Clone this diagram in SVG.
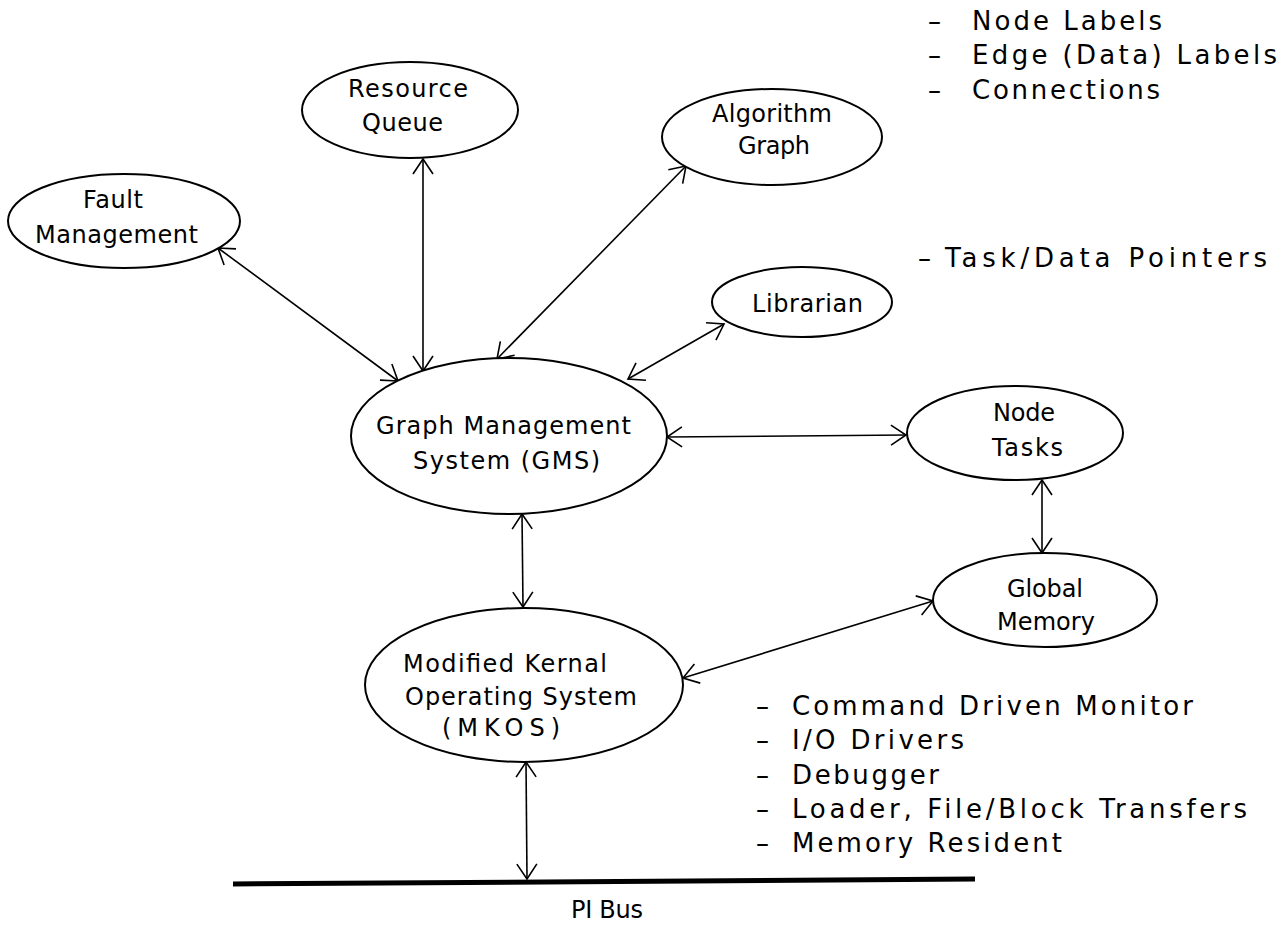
<svg xmlns="http://www.w3.org/2000/svg" width="1288" height="938" viewBox="0 0 1288 938">
<style>
  .n ellipse { fill: #fff; stroke: #000; stroke-width: 2; }
  text { font-family: "DejaVu Sans", "Liberation Sans", sans-serif; font-size: 24px; fill: #000; }
  .note text { font-size: 26px; }
  .c line { stroke: #000; stroke-width: 1.6; fill: none; marker-start: url(#ah); marker-end: url(#ah); }
  .bus { stroke: #000; stroke-width: 5; }
</style>
<defs>
  <marker id="ah" markerUnits="userSpaceOnUse" markerWidth="20" markerHeight="24" viewBox="0 0 20 24" refX="18" refY="12" orient="auto-start-reverse">
    <path d="M3,2 L18,12 L3,22" fill="none" stroke="#000" stroke-width="1.6"/>
  </marker>
</defs>
<rect width="1288" height="938" fill="#fff"/>

<g id="connectors" class="c">
  <line x1="218" y1="248" x2="398" y2="381"/>
  <line x1="423" y1="159" x2="423" y2="371"/>
  <line x1="686" y1="166" x2="497" y2="359"/>
  <line x1="724" y1="324" x2="628" y2="379"/>
  <line x1="667" y1="437" x2="906" y2="435"/>
  <line x1="522" y1="514" x2="523" y2="607"/>
  <line x1="1042" y1="480" x2="1042" y2="553"/>
  <line x1="933" y1="601" x2="683" y2="678"/>
  <line x1="526" y1="762" x2="527" y2="879"/>
</g>

<g id="fault" class="n">
  <ellipse cx="124" cy="221" rx="116" ry="47"/>
  <text x="83" y="208" textLength="60" lengthAdjust="spacing">Fault</text>
  <text x="35" y="243" textLength="163" lengthAdjust="spacing">Management</text>
</g>
<g id="resource" class="n">
  <ellipse cx="410" cy="110" rx="108" ry="48"/>
  <text x="348" y="97" textLength="120" lengthAdjust="spacing">Resource</text>
  <text x="362" y="131" textLength="81" lengthAdjust="spacing">Queue</text>
</g>
<g id="algorithm" class="n">
  <ellipse cx="772" cy="137" rx="110" ry="48"/>
  <text x="712" y="122" textLength="120" lengthAdjust="spacing">Algorithm</text>
  <text x="738" y="154" textLength="72" lengthAdjust="spacing">Graph</text>
</g>
<g id="librarian" class="n">
  <ellipse cx="802" cy="302" rx="90" ry="35"/>
  <text x="752" y="312" textLength="111" lengthAdjust="spacing">Librarian</text>
</g>
<g id="gms" class="n">
  <ellipse cx="509" cy="436" rx="158" ry="78"/>
  <text x="376" y="434" textLength="255" lengthAdjust="spacing">Graph Management</text>
  <text x="413" y="469" textLength="187" lengthAdjust="spacing">System (GMS)</text>
</g>
<g id="nodetasks" class="n">
  <ellipse cx="1015" cy="433" rx="108" ry="47"/>
  <text x="993" y="421" textLength="62" lengthAdjust="spacing">Node</text>
  <text x="992" y="456" textLength="71" lengthAdjust="spacing">Tasks</text>
</g>
<g id="globalmemory" class="n">
  <ellipse cx="1045" cy="600" rx="112" ry="47"/>
  <text x="1007" y="597" textLength="76" lengthAdjust="spacing">Global</text>
  <text x="997" y="630" textLength="98" lengthAdjust="spacing">Memory</text>
</g>
<g id="mkos" class="n">
  <ellipse cx="524" cy="685" rx="159" ry="77"/>
  <text x="403" y="672" textLength="204" lengthAdjust="spacing">Modified Kernal</text>
  <text x="405" y="705" textLength="232" lengthAdjust="spacing">Operating System</text>
  <text x="442" y="736" textLength="118" lengthAdjust="spacing">(MKOS)</text>
</g>
<g id="pibus">
  <line class="bus" x1="233" y1="884" x2="975" y2="879"/>
  <text x="571" y="918" textLength="72" lengthAdjust="spacing">PI Bus</text>
</g>

<g id="gms-notes" class="note">
  <text y="30"><tspan x="928">–</tspan><tspan x="972" textLength="190" lengthAdjust="spacing">Node Labels</tspan></text>
  <text y="64"><tspan x="928">–</tspan><tspan x="972" textLength="305" lengthAdjust="spacing">Edge (Data) Labels</tspan></text>
  <text y="99"><tspan x="928">–</tspan><tspan x="972" textLength="188" lengthAdjust="spacing">Connections</tspan></text>
</g>
<g id="librarian-notes" class="note">
  <text y="267"><tspan x="918">–</tspan><tspan x="945" textLength="322" lengthAdjust="spacing">Task/Data Pointers</tspan></text>
</g>
<g id="mkos-notes" class="note">
  <text y="715"><tspan x="756">–</tspan><tspan x="792" textLength="401" lengthAdjust="spacing">Command Driven Monitor</tspan></text>
  <text y="749"><tspan x="756">–</tspan><tspan x="792" textLength="172" lengthAdjust="spacing">I/O Drivers</tspan></text>
  <text y="784"><tspan x="756">–</tspan><tspan x="792" textLength="147" lengthAdjust="spacing">Debugger</tspan></text>
  <text y="818"><tspan x="756">–</tspan><tspan x="792" textLength="455" lengthAdjust="spacing">Loader, File/Block Transfers</tspan></text>
  <text y="852"><tspan x="756">–</tspan><tspan x="792" textLength="270" lengthAdjust="spacing">Memory Resident</tspan></text>
</g>
</svg>
